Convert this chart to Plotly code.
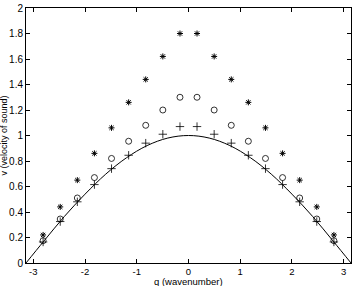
import plotly.graph_objects as go

q = [-2.811, -2.480, -2.149, -1.819, -1.488, -1.157, -0.827, -0.496, -0.165,
     0.165, 0.496, 0.827, 1.157, 1.488, 1.819, 2.149, 2.480, 2.811]
v_star = [0.22, 0.44, 0.65, 0.86, 1.06, 1.26, 1.44, 1.62, 1.80,
          1.80, 1.62, 1.44, 1.26, 1.06, 0.86, 0.65, 0.44, 0.22]
v_circle = [0.175, 0.345, 0.51, 0.67, 0.82, 0.955, 1.08, 1.20, 1.30,
            1.30, 1.20, 1.08, 0.955, 0.82, 0.67, 0.51, 0.345, 0.175]
v_plus = [0.165, 0.325, 0.48, 0.615, 0.74, 0.845, 0.94, 1.01, 1.07,
          1.07, 1.01, 0.94, 0.845, 0.74, 0.615, 0.48, 0.325, 0.165]

q_curve = [-3.1416, -2.8, -2.4, -2.0, -1.6, -1.2, -0.8, -0.4, 0.0,
           0.4, 0.8, 1.2, 1.6, 2.0, 2.4, 2.8, 3.1416]
v_curve = [0.0, 0.17, 0.365, 0.54, 0.697, 0.825, 0.921, 0.98, 1.0,
           0.98, 0.921, 0.825, 0.697, 0.54, 0.365, 0.17, 0.0]

x_ticks = [-3, -2, -1, 0, 1, 2, 3]
x_labels = ["-3", "-2", "-1", "0", "1", "2", "3"]
y_ticks = [0, 0.2, 0.4, 0.6, 0.8, 1, 1.2, 1.4, 1.6, 1.8, 2]
y_labels = ["0", "0.2", "0.4", "0.6", "0.8", "1", "1.2", "1.4", "1.6", "1.8", "2"]

x_title = "q (wavenumber)"
y_title = "v (velocity of sound)"

FONT = "Liberation Sans, Arial, sans-serif"

fig = go.Figure()
fig.add_trace(go.Scatter(x=q_curve, y=v_curve, mode="lines",
                         line=dict(color="black", width=1, shape="spline"), showlegend=False))
fig.add_trace(go.Scatter(x=q, y=v_star, mode="markers",
                         marker=dict(symbol="asterisk-open", size=5, line=dict(color="black", width=1), color="black"),
                         showlegend=False))
fig.add_trace(go.Scatter(x=q, y=v_circle, mode="markers",
                         marker=dict(symbol="circle-open", size=6, line=dict(color="black", width=0.8), color="black"),
                         showlegend=False))
fig.add_trace(go.Scatter(x=q, y=v_plus, mode="markers",
                         marker=dict(symbol="cross-thin-open", size=6, line=dict(color="black", width=0.8), color="black"),
                         showlegend=False))

axis_common = dict(showgrid=False, zeroline=False, showline=True, linecolor="black", linewidth=1,
                   mirror="ticks", ticks="inside", ticklen=4, tickcolor="black")
fig.update_xaxes(range=[-3.1416, 3.1416], tickvals=x_ticks, ticktext=x_labels,
                 tickfont=dict(family=FONT, size=9.5, color="black"), **axis_common)
fig.update_yaxes(range=[0, 2], tickvals=y_ticks, ticktext=y_labels,
                 tickfont=dict(family=FONT, size=10, color="black"), **axis_common)

fig.add_annotation(text=x_title, xref="paper", yref="paper", x=0.5, y=0, yanchor="top",
                   yshift=-11, showarrow=False, font=dict(family=FONT, size=9.5, color="black"))
fig.add_annotation(text=y_title, xref="paper", yref="paper", x=0, y=0.5, xanchor="right",
                   xshift=-16, textangle=-90, showarrow=False, font=dict(family=FONT, size=9, color="black"))

fig.update_layout(width=354, height=286, margin=dict(l=26, r=3, t=8, b=23, autoexpand=False),
                  plot_bgcolor="white", paper_bgcolor="white")
fig.write_html("out.html", config={"displayModeBar": False},
               post_script="document.body.style.margin='0';document.body.style.overflow='hidden';")
